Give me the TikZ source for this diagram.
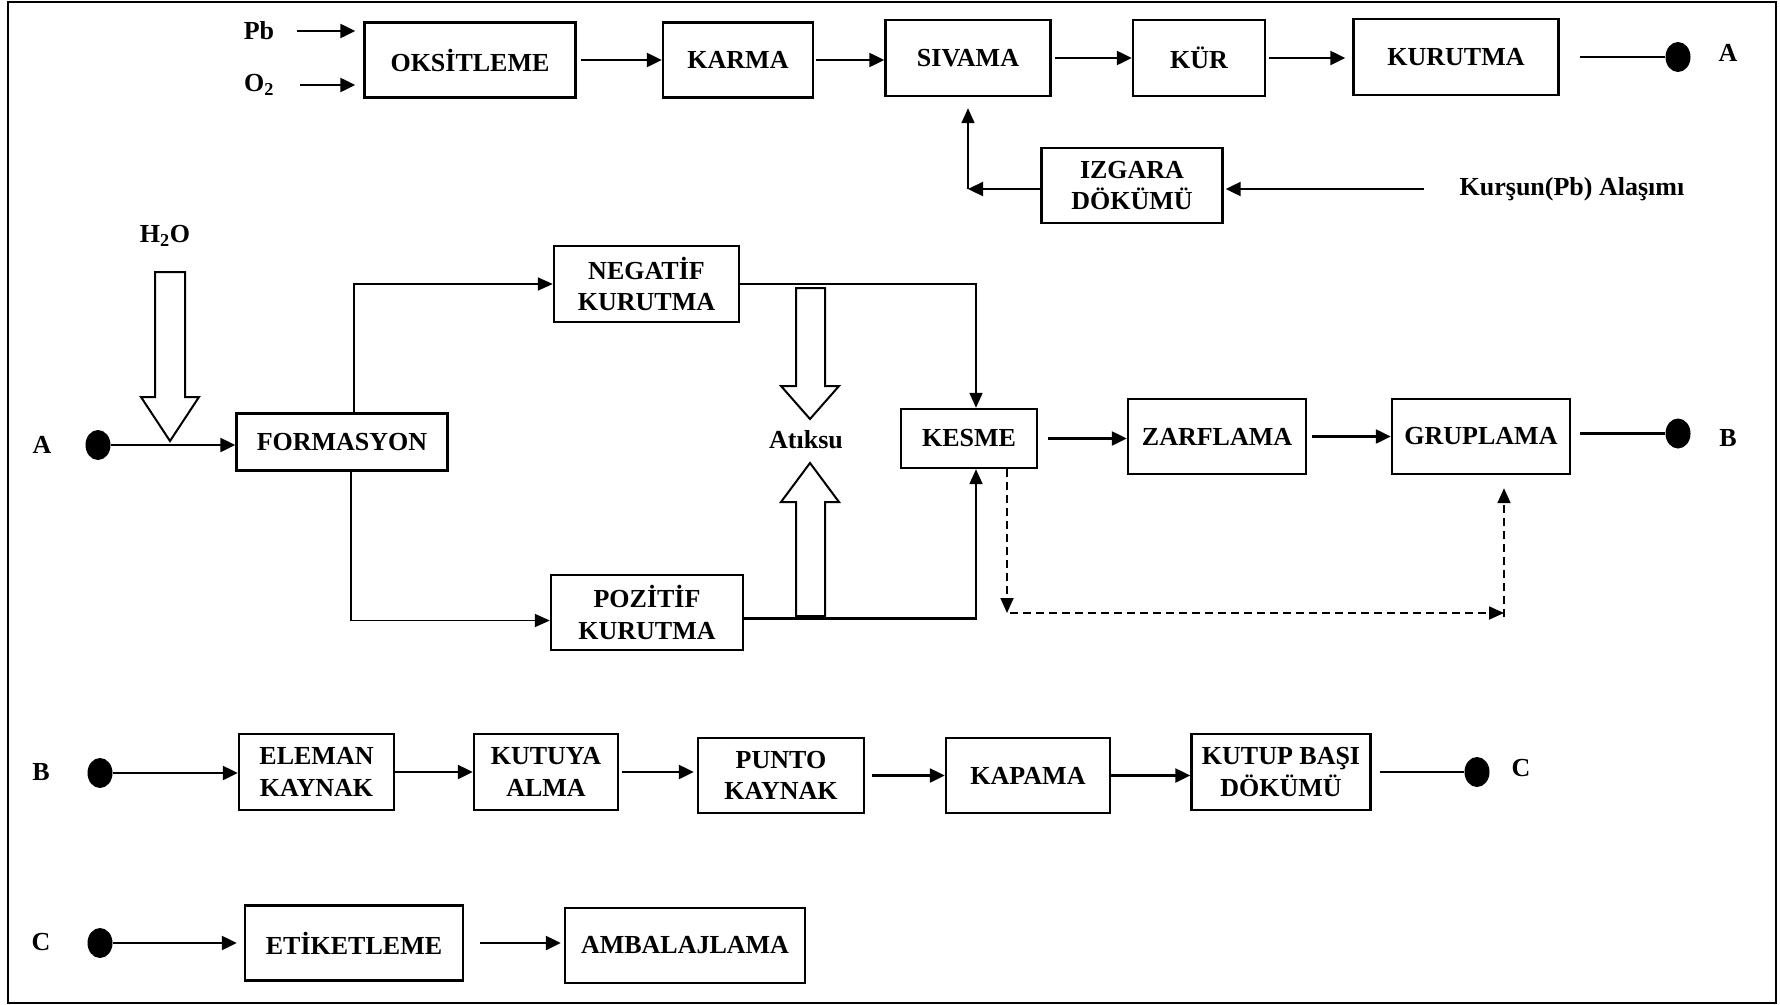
\documentclass[tikz,border=0pt]{standalone}
\usepackage{fontspec}
\setmainfont{Liberation Serif}
\usetikzlibrary{arrows.meta, shapes.geometric}

\begin{document}
\begin{tikzpicture}[x=1pt, y=-1pt, font=\fontsize{26}{31.6}\selectfont\bfseries]
  \tikzstyle{stage}=[draw, line width=2.4pt, align=center, inner sep=0pt, minimum height=75pt]
  \tikzstyle{tag}=[inner sep=2pt]
  \tikzstyle{joint}=[ellipse, fill=black, inner sep=0pt, minimum width=25pt, minimum height=30pt]
  \tikzstyle{flow}=[-{Triangle[length=15pt, width=14pt]}, line width=2.3pt]
  \tikzstyle{thin}=[-{Triangle[length=15pt, width=13pt]}, line width=1.7pt]
  \tikzstyle{link}=[line width=2.3pt]
  \tikzstyle{skip}=[thin, dash pattern=on 8pt off 5pt, line width=1.8pt]
  \tikzstyle{fat}=[draw, line width=2pt, fill=white]

  \useasboundingbox (0, 0) rectangle (1780, 1004);
  \draw[line width=1.6pt] (8, 2) rectangle (1776, 1003);

  % plate line
  \node (pb) at (259, 31) [tag] {Pb};
  \node (o2) at (259, 85) [tag] {O\textsubscript{2}};
  \node (oks) at (470, 60) [stage, minimum width=211pt] {OKSİTLEME};
  \node (karma) at (738, 60) [stage, minimum width=150pt] {KARMA};
  \node (sivama) at (968, 58) [stage, minimum width=165pt, minimum height=76pt] {SIVAMA};
  \node (kur) at (1199, 58) [stage, minimum width=132pt, minimum height=76pt] {KÜR};
  \node (kurutma) at (1456, 57) [stage, minimum width=205pt, minimum height=76pt] {KURUTMA};
  \node (endA) at (1678, 57) [joint] {};
  \node (tagA) at (1728, 53) [tag] {A};
  \node (izgara) at (1132, 185.5) [stage, minimum width=181pt] {IZGARA\\DÖKÜMÜ};
  \node (kursun) at (1572, 189) [tag] {Kurşun(Pb) Alaşımı};

  \draw[flow, shorten <=21pt, shorten >=8pt] (pb.east) -- (pb.east -| oks.west);
  \draw[flow, shorten <=24pt, shorten >=8pt] (o2.east) -- (o2.east -| oks.west);
  \draw[flow, shorten <=4pt] (oks.east) -- (karma.west);
  \draw[flow, shorten <=2pt] (karma.east) -- (karma.east -| sivama.west);
  \draw[flow, shorten <=3pt] (sivama.east) -- (kur.west);
  \draw[flow, shorten <=3pt, shorten >=7pt] (kur.east) -- (kur.east -| kurutma.west);
  \draw[link, shorten <=20pt] (kurutma.east) -- (endA);
  \draw[flow, shorten <=33pt, shorten >=2pt] (kursun.west) -- (kursun.west -| izgara.east);
  \coordinate (turn) at (sivama.south |- kursun.west);
  \draw[flow] (izgara.west |- turn) -- (turn);
  \draw[thin, shorten >=11pt] (turn) -- (sivama.south);

  % formation line
  \node (tagA2) at (42, 445) [tag] {A};
  \node (startA) at (98, 445) [joint] {};
  \node (h2o) at (165, 236) [tag] {H\textsubscript{2}O};
  \node (form) at (342, 442) [stage, minimum width=211pt, minimum height=57pt] {FORMASYON};
  \node (neg) at (646.5, 284) [stage, minimum width=185pt, minimum height=76pt] {NEGATİF\\KURUTMA};
  \node (poz) at (647, 612.5) [stage, minimum width=192pt] {POZİTİF\\KURUTMA};
  \node (atik) at (806, 440) [tag] {Atıksu};
  \node (kesme) at (969, 438.5) [stage, minimum width=136pt, minimum height=59pt] {KESME};
  \node (zarf) at (1217, 436.5) [stage, minimum width=178pt] {ZARFLAMA};
  \node (grup) at (1481, 436.5) [stage, minimum width=178pt] {GRUPLAMA};
  \node (endB) at (1678, 433.5) [joint] {};
  \node (tagB) at (1728, 438) [tag] {B};

  \draw[fat] (155, 272) -- (185, 272) -- (185, 397) -- (199, 397) -- (170, 441) -- (141, 397) -- (155, 397) -- cycle;
  \draw[fat] (796, 288) -- (825, 288) -- (825, 386) -- (839, 386) -- (810, 419) -- (781, 386) -- (796, 386) -- cycle;
  \draw[fat] (796, 616) -- (825, 616) -- (825, 502) -- (839, 502) -- (810, 463) -- (781, 502) -- (796, 502) -- cycle;

  \draw[flow] (startA) -- (startA -| form.west);
  \draw[thin] ([xshift=12pt]form.north) |- (neg.west);
  \draw[thin] ([xshift=9pt]form.south) |- ([yshift=-8pt]poz.west);
  \draw[thin] (neg.east) -| ([xshift=7pt]kesme.north);
  \draw[thin, line width=2.2pt] ([yshift=-6pt]poz.east) -| ([xshift=7pt]kesme.south);
  \draw[flow, shorten <=10pt] (kesme.east) -- (kesme.east -| zarf.west);
  \draw[flow, shorten <=5pt] (zarf.east) -- (grup.west);
  \draw[link, shorten <=9pt] ([yshift=3pt]grup.east) -- (endB);

  \coordinate (dropL) at (1007, 613);
  \coordinate (dropR) at (1504, 613);
  \draw[skip] (dropL |- kesme.south) -- (dropL);
  \draw[skip, shorten <=3pt] (dropL) -- (dropR);
  \draw[skip, shorten >=13pt] ([yshift=-4pt]dropR) -- (dropR |- grup.south);

  % assembly line
  \node (tagB2) at (41, 772) [tag] {B};
  \node (startB) at (100, 773) [joint] {};
  \node (elem) at (316.5, 772) [stage, minimum width=155pt, minimum height=76pt] {ELEMAN\\KAYNAK};
  \node (kutu) at (546, 772) [stage, minimum width=144pt, minimum height=76pt] {KUTUYA\\ALMA};
  \node (punto) at (781, 775.5) [stage, minimum width=166pt] {PUNTO\\KAYNAK};
  \node (kapa) at (1028, 775.5) [stage, minimum width=164pt] {KAPAMA};
  \node (kutup) at (1281, 772) [stage, minimum width=179pt, minimum height=76pt] {KUTUP BAŞI\\DÖKÜMÜ};
  \node (endC) at (1477, 772) [joint] {};
  \node (tagC) at (1521, 768) [tag] {C};

  \draw[flow] (startB) -- (startB -| elem.west);
  \draw[flow] (elem.east) -- (elem.east -| kutu.west);
  \draw[flow, shorten <=3pt, shorten >=3pt] (kutu.east) -- (kutu.east -| punto.west);
  \draw[flow, shorten <=7pt] (punto.east) -- (kapa.west);
  \draw[flow] (kapa.east) -- (kapa.east -| kutup.west);
  \draw[link, shorten <=8pt] (kutup.east) -- (endC);

  % packing line
  \node (tagC2) at (41, 942) [tag] {C};
  \node (startC) at (100, 943) [joint] {};
  \node (etik) at (354, 943) [stage, minimum width=218pt] {ETİKETLEME};
  \node (amb) at (685, 945.5) [stage, minimum width=240pt] {AMBALAJLAMA};

  \draw[flow, shorten >=7pt] (startC) -- (startC -| etik.west);
  \draw[flow, shorten <=16pt, shorten >=3pt] (etik.east) -- (etik.east -| amb.west);
\end{tikzpicture}
\end{document}
